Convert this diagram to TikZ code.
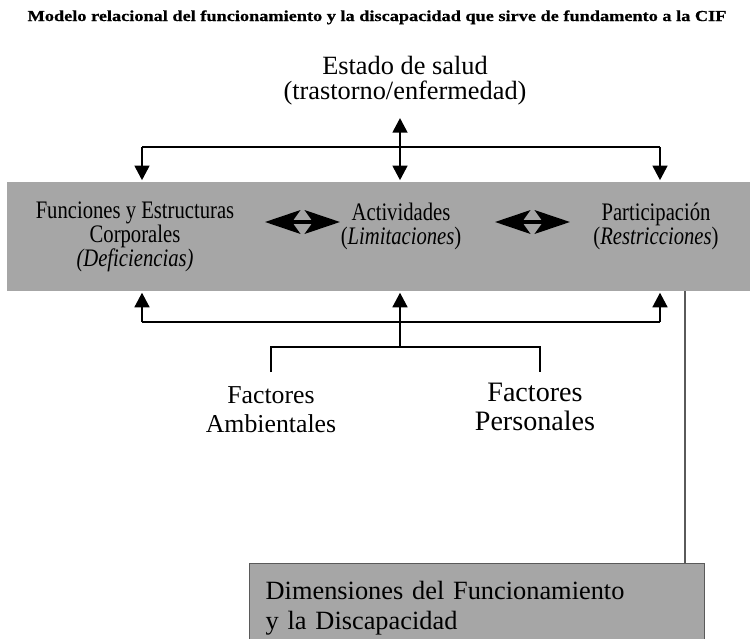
\documentclass[tikz,border=0pt]{standalone}
\usepackage{fontspec}
\setmainfont{Liberation Serif}
\newfontfamily\narrowrm[FakeStretch=0.82]{Liberation Serif}
\newfontfamily\titlerm[FakeStretch=1.2,FakeBold=0.6]{Liberation Serif Bold}
\usetikzlibrary{arrows.meta}
\definecolor{bandgray}{RGB}{166,166,166}
\definecolor{edgegray}{RGB}{90,90,90}

\begin{document}
\begin{tikzpicture}[x=0.03cm, y=-0.03cm,
    link/.style={line width=2.3pt},
    tip/.style={-{Triangle[length=12.5pt,width=12.5pt]}},
    fat/.style={line width=3.6pt, {Stealth[length=30pt,width=20pt,inset=7pt]}-{Stealth[length=30pt,width=20pt,inset=7pt]}},
    txt/.style={inner sep=0, align=center},
    bandtxt/.style={txt, anchor=north, font=\narrowrm\fontsize{21.5}{20.5}\selectfont}]

      \useasboundingbox (0,0) rectangle (750,639);

      \node (title) [txt, anchor=base, font=\titlerm\fontsize{13}{15}\selectfont]
        at (377,21) {Modelo relacional del funcionamiento y la discapacidad que sirve de fundamento a la CIF};

      \node (estado) [txt, anchor=north, font=\fontsize{22.5}{21.5}\selectfont]
        at (405,56) {Estado de salud\\(trastorno/enfermedad)};

      \node (band) [fill=bandgray, inner sep=0, anchor=north west,
        minimum width=22.5cm, minimum height=3.27cm] at (7,182) {};

      \node (func) [bandtxt] at (135,202) {Funciones y Estructuras\\Corporales\\\textit{(Deficiencias)}};
      \node (act) [bandtxt] at (401,203) {Actividades\\(\textit{Limitaciones})};
      \node (part) [bandtxt] at (656,203) {Participación\\(\textit{Restricciones})};

      \coordinate (fa) at (265,222);
      \coordinate (fb) at (340,222);
      \coordinate (ga) at (495,222);
      \coordinate (gb) at (570,222);
      \draw[fat] (fa) -- (fb);
      \draw[fat] (ga) -- (gb);

      % salud -> band
      \coordinate (up) at (400,118);
      \coordinate (hub) at (400,147);
      \coordinate (hl) at (142,147);
      \coordinate (hr) at (660,147);
      \draw[link] (hl) -- (hr);
      \draw[link, tip] (hub) -- (up);
      \foreach \c in {hl,hub,hr}
        \draw[link, tip] (\c) -- ([yshift=1.5pt]\c |- band.north);

      % factores -> band
      \coordinate (bl) at (142,322);
      \coordinate (br) at (660,322);
      \coordinate (fork) at (400,347);
      \coordinate (fl) at (271,372);
      \coordinate (fr) at (540,372);
      \draw[link] (bl) -- (br);
      \foreach \c in {bl,fork,br}
        \draw[link, tip] (\c) -- ([yshift=-1pt]\c |- band.south);
      \draw[link] (fl) |- (fork) -| (fr);

      \node (ambi) [txt, anchor=north, font=\fontsize{22}{24.8}\selectfont]
        at (271,386) {Factores\\Ambientales};
      \node (pers) [txt, anchor=north, font=\fontsize{24}{24.8}\selectfont]
        at (535,383) {Factores\\Personales};

      \node (dim) [fill=bandgray, draw=edgegray, line width=1.2pt, anchor=north west,
        minimum height=2.64cm, text width=12.69cm, inner xsep=0.48cm, align=left,
        font=\fontsize{22.5}{25.6}\selectfont]
        at (249,563) {Dimensiones del Funcionamiento\\y la Discapacidad};

      \coordinate (w) at (685,291);
      \draw[edgegray, line width=1.2pt] (w) -- (w |- dim.north);
    \end{tikzpicture}
\end{document}
